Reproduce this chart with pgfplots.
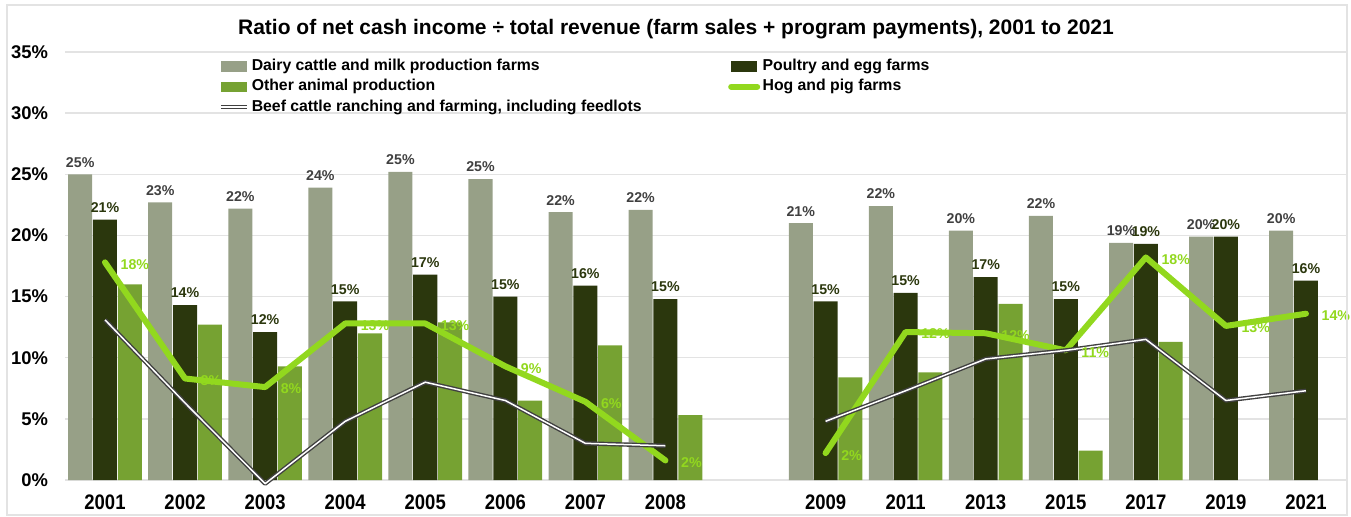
\documentclass[border=0pt]{standalone}
\usepackage{fontspec}
\setmainfont{Liberation Sans}[FakeStretch=0.88]
\newfontfamily\wide{Liberation Sans}
\usepackage{pgfplots}
\pgfplotsset{compat=1.18}

\definecolor{dairy}{HTML}{97A087}
\definecolor{poultry}{HTML}{2B370D}
\definecolor{other}{HTML}{76A232}
\definecolor{hog}{HTML}{92D81E}
\definecolor{beef}{HTML}{404040}
\definecolor{gridgray}{HTML}{E3E3E3}
\definecolor{lblgray}{HTML}{404040}

\pgfplotsset{
  barkey/.style={legend image code/.code={\fill[##1] (0pt,-2.6pt) rectangle (13pt,2.6pt);}},
  linekey/.style={legend image code/.code={\draw[##1] (0pt,0pt) -- (13pt,0pt);}},
  pct/.style={nodes near coords={\pgfmathprintnumber[fixed,precision=0]{\pgfplotspointmeta}\%}},
}

\begin{document}
\begin{tikzpicture}
\begin{axis}[
  scale only axis, width=640.5pt, height=214pt,
  xmin=-0.5, xmax=15.5, ymin=0, ymax=35,
  xtick={0,1,2,3,4,5,6,7,9,10,11,12,13,14,15},
  xticklabels={2001,2002,2003,2004,2005,2006,2007,2008,2009,2011,2013,2015,2017,2019,2021},
  ytick={0,5,...,35},
  yticklabel={\pgfmathprintnumber{\tick}\%},
  /pgf/number format/assume math mode=true,
  ymajorgrids, grid style={draw=gridgray, line width=0.75pt},
  axis line style={draw=none}, major tick length=0pt,
  xticklabel style={font=\bfseries\fontsize{10.5}{12}\selectfont, yshift=-4pt},
  yticklabel style={font=\wide\bfseries\fontsize{9.2}{10}\selectfont, xshift=-5pt},
  clip=false,
  unbounded coords=jump,
  legend columns=2,
  legend cell align=left,
  legend style={at={(0.12,0.99)}, anchor=north west, draw=none, fill=none,
    font=\wide\bfseries\fontsize{7.9}{9}\selectfont, row sep=0.6pt,
    inner sep=0pt, nodes={inner sep=1.2pt}},
]
\addplot[ybar, bar width=0.3, bar shift=-0.31, fill=dairy, draw=none, barkey,
  pct, nodes near coords style={font=\wide\bfseries\fontsize{7.1}{8}\selectfont, text=lblgray, xshift=-12.4pt}]
  coordinates {(0,25.0) (1,22.7) (2,22.2) (3,23.9) (4,25.2) (5,24.6) (6,21.9) (7,22.1)
    (9,21.0) (10,22.4) (11,20.4) (12,21.6) (13,19.4) (14,19.9) (15,20.4)};
\addlegendentry{\makebox[237pt][l]{Dairy cattle and milk production farms}}
\addplot[ybar, bar width=0.3, bar shift=0, fill=poultry, draw=none, barkey,
  pct, nodes near coords style={font=\wide\bfseries\fontsize{7.1}{8}\selectfont, text=poultry}]
  coordinates {(0,21.3) (1,14.3) (2,12.1) (3,14.6) (4,16.8) (5,15.0) (6,15.9) (7,14.8)
    (9,14.6) (10,15.3) (11,16.6) (12,14.8) (13,19.3) (14,19.9) (15,16.3)};
\addlegendentry{Poultry and egg farms}
\addplot[ybar, bar width=0.3, bar shift=0.31, fill=other, draw=none, barkey]
  coordinates {(0,16.0) (1,12.7) (2,9.3) (3,12.0) (4,12.9) (5,6.5) (6,11.0) (7,5.3)
    (9,8.4) (10,8.8) (11,14.4) (12,2.4) (13,11.3)};
\addlegendentry{Other animal production}
\addplot[sharp plot, draw=hog, line width=3pt, line join=round, line cap=round, linekey,
  pct, nodes near coords style={font=\wide\bfseries\fontsize{7.1}{8}\selectfont, text=hog, anchor=west, xshift=3pt, yshift=-1pt}]
  coordinates {(0,17.8) (1,8.3) (2,7.6) (3,12.8) (4,12.8) (5,9.3) (6,6.4) (7,1.6) (8,nan)
    (9,2.2) (10,12.1) (11,12.0) (12,10.6) (13,18.2) (14,12.6) (15,13.6)};
\addlegendentry{Hog and pig farms}
\addplot[sharp plot, draw=beef, line width=0.7pt, double=white, double distance=0.75pt, line join=round, linekey]
  coordinates {(0,13.1) (1,6.3) (2,-0.3) (3,4.8) (4,8.0) (5,6.5) (6,3.0) (7,2.8) (8,nan)
    (9,4.8) (10,7.3) (11,9.9) (12,10.6) (13,11.5) (14,6.5) (15,7.3)};
\addlegendentry{Beef cattle ranching and farming, including feedlots}
\node[font=\wide\bfseries\fontsize{10.5}{12}\selectfont] at (rel axis cs:0.477,1.054)
  {Ratio of net cash income ÷ total revenue (farm sales + program payments), 2001 to 2021};
\coordinate (BL) at (rel axis cs:-0.0507,-0.0864);
\coordinate (TR) at (rel axis cs:1.0039,1.1215);
\coordinate (FL) at (rel axis cs:-0.0453,-0.0818);
\coordinate (FR) at (rel axis cs:1.0008,1.1098);
\end{axis}
\draw[gridgray, line width=0.75pt] (FL) rectangle (FR);
\pgfresetboundingbox
\path (BL) rectangle (TR);
\end{tikzpicture}
\end{document}
